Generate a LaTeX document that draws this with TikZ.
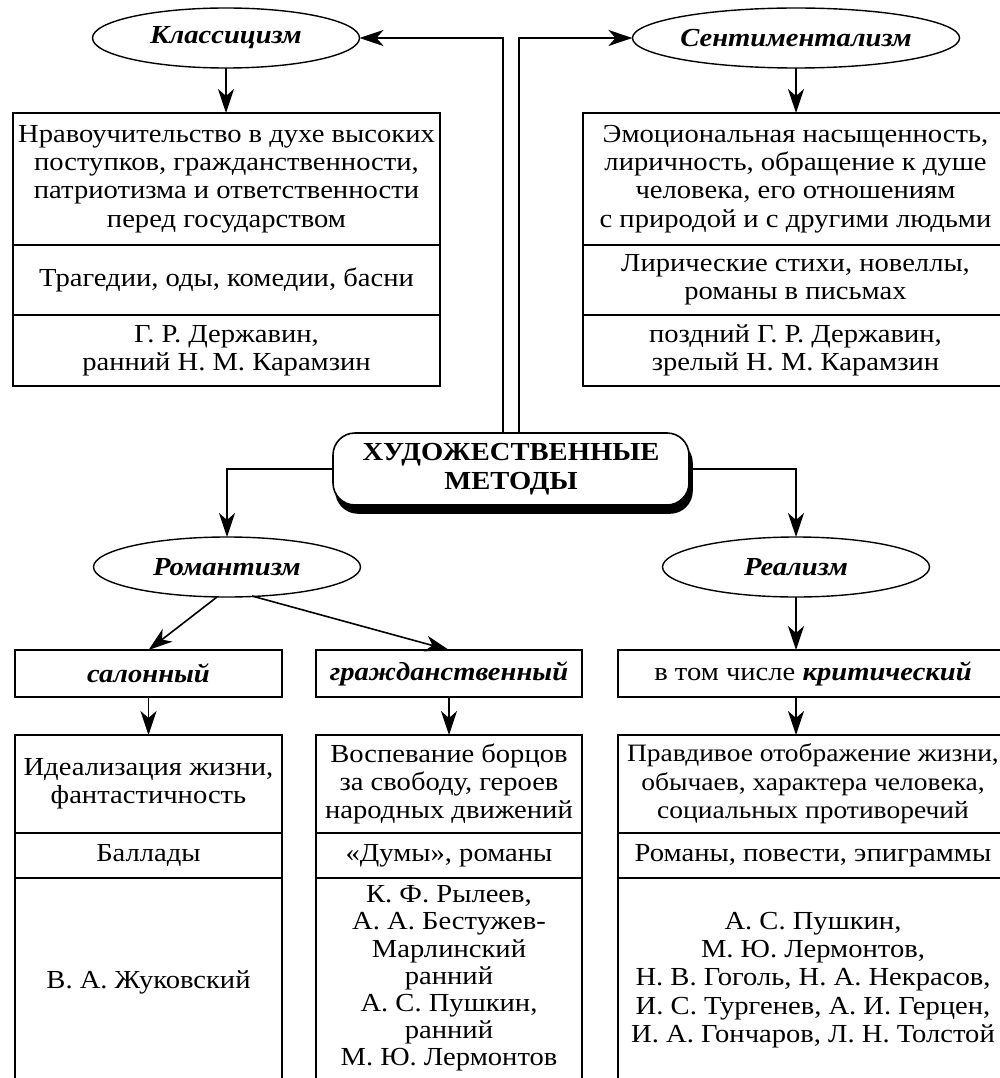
\documentclass[tikz,border=0pt]{standalone}
\usepackage{fontspec}
\setmainfont{Liberation Serif}[FakeStretch=1.1]
\usetikzlibrary{shapes.geometric,arrows.meta,calc}
\begin{document}
\begin{tikzpicture}[x=1pt,y=-1pt,
  every node/.style={inner sep=0pt, outer sep=0pt},
  txt/.style={font=\fontsize{26}{28.3}\selectfont, align=center},
  cell/.style={txt, draw, line width=1.6pt, anchor=north west},
  opencell/.style={txt, anchor=north west},
  oval/.style={ellipse, draw, line width=1.4pt, minimum width=267pt, minimum height=60pt, font=\fontsize{26}{28}\selectfont\bfseries\itshape},
  arr/.style={line width=1.6pt, -{Stealth[length=24pt,width=16pt,inset=7pt]}},
  ln/.style={line width=1.6pt}]
\useasboundingbox (0,0) rectangle (1000,1078);
\clip (0,0) rectangle (1000,1078);
\fill[white] (0,0) rectangle (1000,1078);

% ellipses
\node[oval] (class) at (226,38) {Классицизм};
\node[oval] (sent) at (796,38) {Сентиментализм};
\node[oval] (rom) at (227,567) {Романтизм};
\node[oval] (real) at (796,567) {Реализм};

% central node with shadow
\node[draw, fill=black, rounded corners=22pt, line width=1.6pt, minimum width=356pt, minimum height=72pt] (methsh) at (514,477) {};
\node[draw, fill=white, rounded corners=22pt, line width=1.6pt, minimum width=356pt, minimum height=72pt, font=\fontsize{26}{29}\selectfont\bfseries, align=center] (meth) at (511,469) {ХУДОЖЕСТВЕННЫЕ\\МЕТОДЫ};

% classicism box
\node[cell, minimum width=427pt, minimum height=132pt] (k1) at (13,113) {Нравоучительство в духе высоких\\поступков, гражданственности,\\патриотизма и ответственности\\перед государством};
\node[cell, minimum width=427pt, minimum height=70pt] (k2) at (13,245) {Трагедии, оды, комедии, басни};
\node[cell, minimum width=427pt, minimum height=71pt] (k3) at (13,315) {Г. Р. Державин,\\ранний Н. М. Карамзин};

% sentimentalism box
\node[cell, minimum width=425pt, minimum height=132pt] (e1) at (583,113) {Эмоциональная насыщенность,\\лиричность, обращение к душе\\человека, его отношениям\\с природой и с другими людьми};
\node[cell, minimum width=425pt, minimum height=70pt] (e2) at (583,245) {Лирические стихи, новеллы,\\романы в письмах};
\node[cell, minimum width=425pt, minimum height=71pt] (e3) at (583,315) {поздний Г. Р. Державин,\\зрелый Н. М. Карамзин};

% second row
\node[cell, minimum width=267pt, minimum height=47pt, font=\fontsize{26}{28}\selectfont\bfseries\itshape] (salon) at (15,650) {салонный};
\node[cell, minimum width=266pt, minimum height=47pt, font=\fontsize{26}{28}\selectfont\bfseries\itshape] (civic) at (316,650) {гражданственный};
\node[cell, minimum width=390pt, minimum height=47pt] (crit) at (618,650) {в том числе \textbf{\textit{критический}}};

% lower boxes
\node[cell, minimum width=267pt, minimum height=98pt] (s1) at (15,735) {Идеализация жизни,\\фантастичность};
\node[cell, minimum width=267pt, minimum height=45pt] (s2) at (15,833) {Баллады};
\node[opencell, minimum width=267pt, minimum height=208pt] (s3) at (15,878) {В. А. Жуковский};

\node[cell, minimum width=266pt, minimum height=98pt] (c1) at (316,735) {Воспевание борцов\\за свободу, героев\\народных движений};
\node[cell, minimum width=266pt, minimum height=45pt] (c2) at (316,833) {«Думы», романы};
\node[opencell, minimum width=266pt, minimum height=201pt, font=\fontsize{26}{27.2}\selectfont] (c3) at (316,878) {К. Ф. Рылеев,\\А. А. Бестужев-\\Марлинский\\ранний\\А. С. Пушкин,\\ранний\\М. Ю. Лермонтов};

\node[cell, minimum width=390pt, minimum height=98pt, font=\fontsize{25}{28.3}\selectfont] (r1) at (618,735) {Правдивое отображение жизни,\\обычаев, характера человека,\\социальных противоречий};
\node[cell, minimum width=390pt, minimum height=45pt] (r2) at (618,833) {Романы, повести, эпиграммы};
\node[opencell, minimum width=390pt, minimum height=204pt] (r3) at (618,878) {А. С. Пушкин,\\М. Ю. Лермонтов,\\Н. В. Гоголь, Н. А. Некрасов,\\И. С. Тургенев, А. И. Герцен,\\И. А. Гончаров, Л. Н. Толстой};

% open cell sides (run past the lower edge of the page)
\foreach \n in {s3,c3,r3}{
  \draw[ln] (\n.north west) -- ($(\n.south west)+(0,30)$);
  \draw[ln] (\n.north east) -- ($(\n.south east)+(0,30)$);
}

% connectors
\draw[arr] ([xshift=-8pt]meth.north) |- (class.east);
\draw[arr] ([xshift=8pt]meth.north) |- (sent.west);
\draw[arr] (class.south) -- (class.south |- k1.north);
\draw[arr] (sent.south) -- (sent.south |- e1.north);
\draw[arr] (meth.west) -| (rom.north);
\draw[arr] (meth.east) -| (real.north);
\draw[arr] ($(rom.south)+(-10,0)$) -- (salon.north);
\draw[arr] ($(rom.south)+(25,-1)$) -- (civic.north);
\draw[arr] (real.south) -- (real.south |- crit.north);
\draw[arr] (salon.south) -- (salon.south |- s1.north);
\draw[arr] (civic.south) -- (civic.south |- c1.north);
\draw[arr] (crit.south -| real.south) -- (real.south |- r1.north);
\end{tikzpicture}
\end{document}
